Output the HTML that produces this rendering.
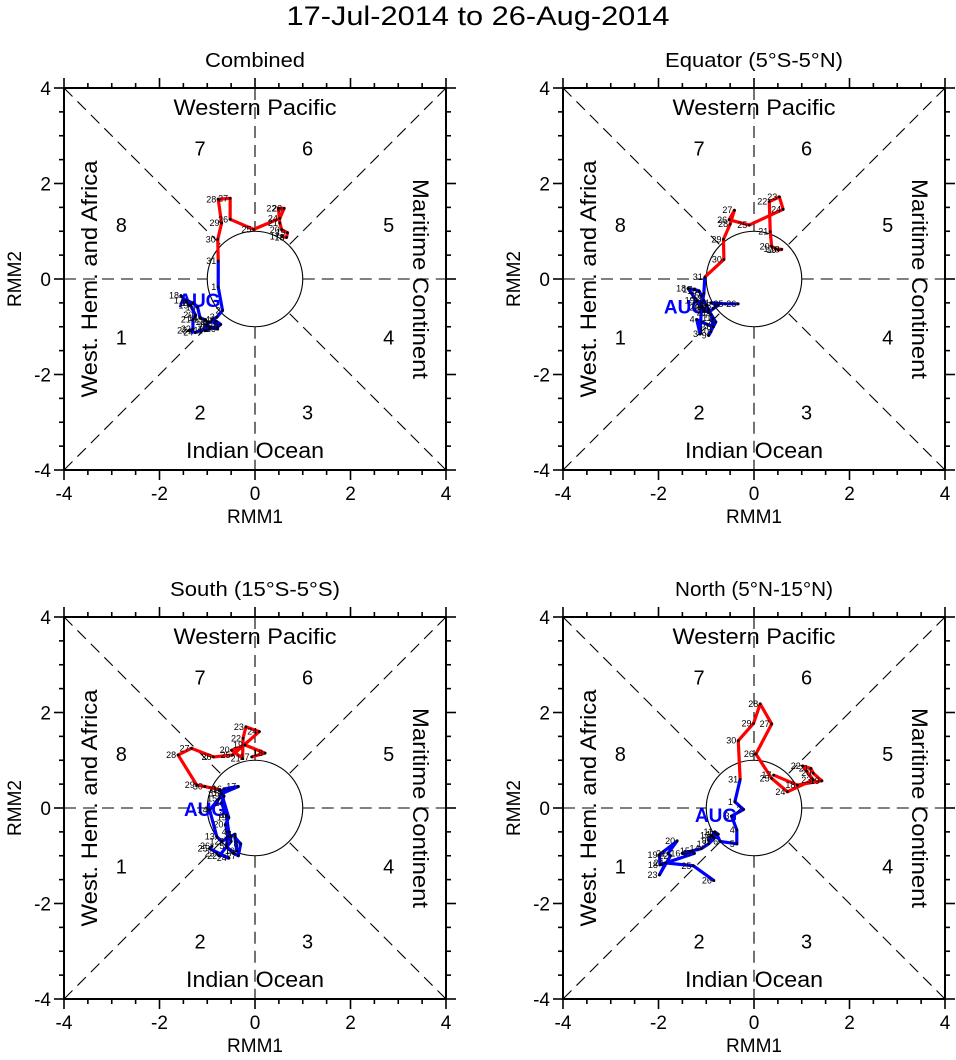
<!DOCTYPE html>
<html><head><meta charset="utf-8"><style>
html,body{margin:0;padding:0;background:#fff;}
svg{display:block;font-family:"Liberation Sans",sans-serif;}
</style></head><body>
<svg id="chart" width="956" height="1060" viewBox="0 0 956 1060">
<text x="478" y="25" text-anchor="middle" font-size="27" textLength="383" lengthAdjust="spacingAndGlyphs">17-Jul-2014 to 26-Aug-2014</text>
</svg>
<script>
// ---- data ----
const panelTitles = ["Combined","Equator (5°S-5°N)","South (15°S-5°S)","North (5°N-15°N)"];
const julyDays = [17,18,19,20,21,22,23,24,25,26,27,28,29,30,31];
const augDays = [1,2,3,4,5,6,7,8,9,10,11,12,13,14,15,16,17,18,19,20,21,22,23,24,25,26];
const axisTicks = [-4,-2,0,2,4];
// Combined
const julX0 = [0.56,0.66,0.68,0.56,0.52,0.49,0.61,0.52,-0.03,-0.52,-0.52,-0.77,-0.70,-0.78,-0.77];
const julY0 = [0.89,0.87,0.97,1.03,1.17,1.48,1.48,1.27,1.04,1.25,1.69,1.67,1.17,0.83,0.38];
const augX0 = [-0.77,-0.68,-0.80,-0.90,-0.78,-0.72,-0.82,-0.95,-1.00,-0.95,-1.05,-1.00,-1.05,-1.15,-1.20,-1.30,-1.45,-1.55,-1.35,-1.25,-1.30,-1.30,-1.38,-1.25,-0.95,-0.78];
const augY0 = [-0.17,-0.66,-0.80,-0.85,-1.00,-0.95,-0.88,-0.90,-0.95,-1.05,-1.08,-0.90,-0.85,-0.82,-0.60,-0.50,-0.45,-0.35,-0.55,-0.75,-0.85,-1.05,-1.08,-1.12,-1.00,-1.05];
// Equator
const julX1 = [0.45,0.58,0.51,0.37,0.34,0.32,0.53,0.61,-0.10,-0.52,-0.41,-0.50,-0.64,-0.63,-1.03];
const julY1 = [0.63,0.62,0.61,0.68,0.99,1.62,1.72,1.46,1.13,1.24,1.44,1.15,0.83,0.41,0.04];
const augX1 = [-1.05,-1.10,-1.13,-1.20,-0.98,-0.85,-0.90,-0.80,-0.95,-0.90,-0.85,-0.95,-1.00,-1.05,-1.10,-1.15,-1.25,-1.38,-1.20,-1.10,-0.95,-0.85,-0.75,-0.90,-0.60,-0.33];
const augY1 = [-0.30,-0.60,-1.15,-0.85,-0.95,-1.00,-0.75,-0.90,-1.18,-1.10,-0.82,-0.65,-0.55,-0.45,-0.35,-0.25,-0.22,-0.20,-0.45,-0.60,-0.70,-0.62,-0.55,-0.50,-0.52,-0.52];
// South
const julX2 = [-0.07,0.21,-0.21,-0.49,-0.26,-0.25,-0.19,0.09,-0.47,-0.87,-1.33,-1.61,-1.22,-1.05,-0.73];
const julY2 = [1.07,1.15,1.32,1.21,1.04,1.46,1.70,1.60,1.11,1.07,1.25,1.11,0.48,0.45,0.38];
const augX2 = [-0.65,-0.70,-0.60,-0.55,-0.60,-0.45,-0.35,-0.30,-0.42,-0.38,-0.42,-0.70,-0.80,-0.95,-0.75,-0.65,-0.35,-0.70,-0.55,-0.62,-0.50,-0.75,-0.80,-0.55,-0.95,-0.90];
const augY2 = [0.25,0.10,-0.15,-0.50,-0.80,-0.95,-1.00,-0.75,-0.62,-0.90,-0.55,-0.70,-0.60,-0.04,0.20,0.40,0.45,0.30,-0.20,-0.35,-0.70,-1.00,-0.95,-1.05,-0.85,-0.80];
// North
const julX3 = [0.41,0.91,1.42,1.24,1.19,1.02,1.24,0.70,0.37,0.04,0.37,0.13,-0.01,-0.33,-0.29];
const julY3 = [0.69,0.48,0.57,0.73,0.83,0.88,0.59,0.34,0.62,1.13,1.76,2.18,1.77,1.41,0.60];
const augX3 = [-0.40,-0.22,-0.47,-0.36,-0.36,-0.71,-0.78,-0.85,-0.95,-0.88,-0.82,-0.75,-0.95,-1.10,-1.30,-1.50,-1.25,-1.97,-1.98,-1.61,-1.80,-1.75,-1.98,-1.85,-1.27,-0.84];
const augY3 = [0.13,-0.03,-0.17,-0.46,-0.75,-0.70,-0.55,-0.62,-0.68,-0.58,-0.50,-0.55,-0.75,-0.85,-0.90,-0.95,-0.95,-1.19,-0.98,-0.69,-0.95,-1.00,-1.40,-1.15,-1.21,-1.52];

const julXs=[julX0,julX1,julX2,julX3], julYs=[julY0,julY1,julY2,julY3];
const augXs=[augX0,augX1,augX2,augX3], augYs=[augY0,augY1,augY2,augY3];

const NS="http://www.w3.org/2000/svg";
const svg=document.getElementById('chart');
function mk(tag,attrs,parent){const e=document.createElementNS(NS,tag);for(const k in attrs)e.setAttribute(k,attrs[k]);(parent||svg).appendChild(e);return e;}
const U=47.75;
const centers=[[255,279],[754,279],[255,808],[754,808]];
const subtitleWidths=[100,178,170,158];

centers.forEach(([cx,cy],p)=>{
  const g=mk('g',{});
  
  
  const sx=v=>cx+v*U, sy=v=>cy-v*U;
  const L=sx(-4),R=sx(4),T=sy(4),B=sy(-4);
  const d='12 7';
  const r=U, q=U/Math.SQRT2;
  [[L,cy,cx-r,cy],[cx+r,cy,R,cy],[cx,T,cx,cy-r],[cx,cy+r,cx,B],
   [L,T,cx-q,cy-q],[R,T,cx+q,cy-q],[L,B,cx-q,cy+q],[R,B,cx+q,cy+q]].forEach(a=>{
    const ln=mk('line',{x1:a[0],y1:a[1],x2:a[2],y2:a[3],stroke:'#000','stroke-width':1.1,'stroke-dasharray':d},g);
    
    
  });
  const c=mk('circle',{cx:cx,cy:cy,r:r,fill:'none',stroke:'#000','stroke-width':1.1},g);
  
  
  const fr=mk('rect',{x:L,y:T,width:R-L,height:B-T,fill:'none',stroke:'#000','stroke-width':2},g);
  
  
  for(let v=-4;v<=4.001;v+=0.5){
    const major=Math.abs(v%2)<0.01, len=major?10:5;
    mk('line',{x1:sx(v),y1:B,x2:sx(v),y2:B+len,stroke:'#000','stroke-width':1.6},g);
    mk('line',{x1:sx(v),y1:T,x2:sx(v),y2:T-len,stroke:'#000','stroke-width':1.6},g);
    mk('line',{x1:L,y1:sy(v),x2:L-len,y2:sy(v),stroke:'#000','stroke-width':1.6},g);
    mk('line',{x1:R,y1:sy(v),x2:R+len,y2:sy(v),stroke:'#000','stroke-width':1.6},g);
  }
  axisTicks.forEach(v=>{
    const t=mk('text',{x:sx(v),y:B+30,'text-anchor':'middle','font-size':19},g);t.textContent=String(v);
    
    
    const t2=mk('text',{x:L-13,y:sy(v)+7,'text-anchor':'end','font-size':19},g);t2.textContent=String(v);
    
    
  });
  const xt=mk('text',{x:cx,y:B+53,'text-anchor':'middle','font-size':19},g);xt.textContent='RMM1';
  
  
  const yt=mk('text',{x:0,y:0,'text-anchor':'middle','font-size':19,transform:`translate(${L-43},${cy}) rotate(-90)`},g);yt.textContent='RMM2';
  
  
  const st=mk('text',{x:cx,y:T-21,'text-anchor':'middle','font-size':20,textLength:subtitleWidths[p],lengthAdjust:'spacingAndGlyphs'},g);st.textContent=panelTitles[p];
  
  
  const wp=mk('text',{x:cx,y:T+27,'text-anchor':'middle','font-size':22,textLength:163,lengthAdjust:'spacingAndGlyphs'},g);wp.textContent='Western Pacific';
  
  
  const io=mk('text',{x:cx,y:B-12,'text-anchor':'middle','font-size':22,textLength:138,lengthAdjust:'spacingAndGlyphs'},g);io.textContent='Indian Ocean';
  
  
  const wh=mk('text',{x:0,y:0,'text-anchor':'middle','font-size':22,textLength:237,lengthAdjust:'spacingAndGlyphs',transform:`translate(${L+33},${cy}) rotate(-90)`},g);wh.textContent='West. Hem. and Africa';
  
  
  const mc=mk('text',{x:0,y:0,'text-anchor':'middle','font-size':22,textLength:200,lengthAdjust:'spacingAndGlyphs',transform:`translate(${R-33},${cy}) rotate(90)`},g);mc.textContent='Maritime Continent';
  
  
  [[7,-1.15,2.73],[6,1.1,2.73],[8,-2.8,1.13],[5,2.8,1.13],[1,-2.8,-1.22],[4,2.8,-1.22],[2,-1.15,-2.8],[3,1.1,-2.8]].forEach(a=>{
    const t=mk('text',{x:sx(a[1]),y:sy(a[2])+7,'text-anchor':'middle','font-size':20},g);t.textContent=a[0];
    
    
  });
  const jx=julXs[p],jy=julYs[p],ax=augXs[p],ay=augYs[p];
  const jp=jx.map((v,i)=>sx(v)+','+sy(jy[i])).join(' ');
  const ap=[sx(jx[jx.length-1])+','+sy(jy[jy.length-1])].concat(ax.map((v,i)=>sx(v)+','+sy(ay[i]))).join(' ');
  const rl=mk('polyline',{points:jp,fill:'none',stroke:'#ff0000','stroke-width':3.2,'stroke-linejoin':'round'},g);
  
  
  const bl=mk('polyline',{points:ap,fill:'none',stroke:'#0000ff','stroke-width':3.2,'stroke-linejoin':'round'},g);
  
  
  const at=mk('text',{x:sx(ax[0])-40,y:sy(ay[0])+20,'font-size':19,'font-weight':'bold',fill:'#0000ff'},g);at.textContent='AUG';
  
  
  function pts(xs,ys,days){
    xs.forEach((v,i)=>{
      const dot=mk('circle',{cx:sx(v),cy:sy(ys[i]),r:1.4,fill:'#000'},g);
      
      
      const t=mk('text',{x:sx(v)-2,y:sy(ys[i])+3,'text-anchor':'end','font-size':9},g);t.textContent=days[i];
      
      
    });
  }
  pts(jx,jy,julyDays);pts(ax,ay,augDays);
});
</script>
</body></html>
